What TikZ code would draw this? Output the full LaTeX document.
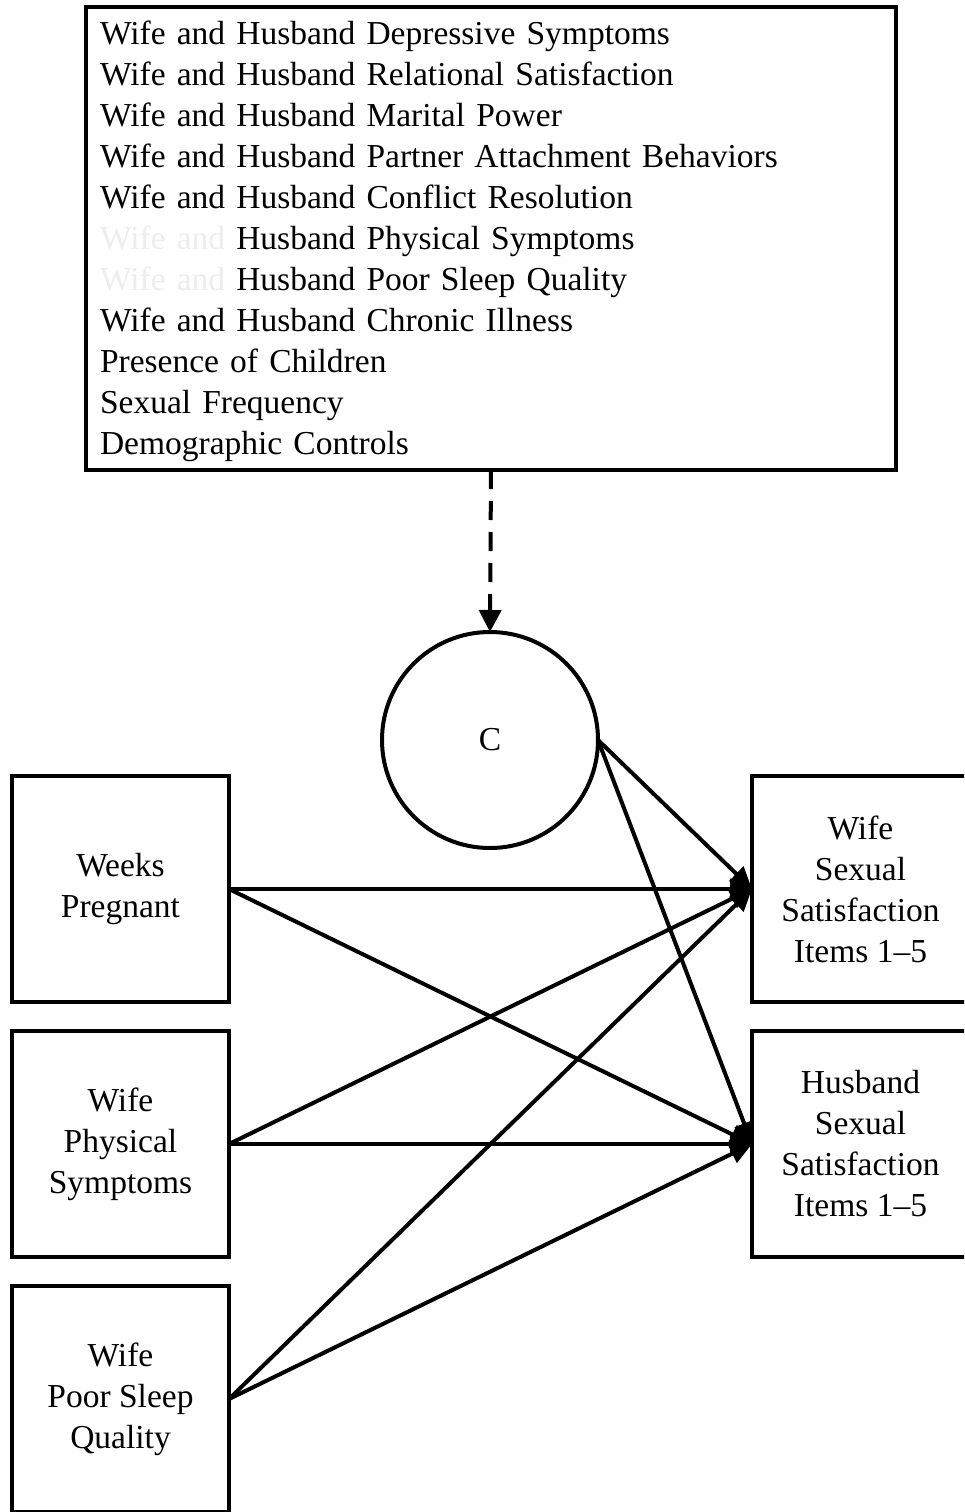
\documentclass[tikz,border=0pt]{standalone}
\usepackage{fontspec}
\setmainfont{Liberation Serif}
\usetikzlibrary{arrows.meta}
\begin{document}
\begin{tikzpicture}[x=1pt,y=-1pt,outer sep=0pt,
  txt/.style={font=\fontsize{33.5}{41}\selectfont},
  box/.style={draw,line width=4pt,txt,align=center,minimum width=217,minimum height=226,inner sep=0pt},
  arr/.style={line width=4pt,-{Triangle[length=22pt,width=20pt]}},
  darr/.style={line width=4pt,dash pattern=on 19pt off 12pt,-{Triangle[length=22pt,width=22pt]}}
]
\useasboundingbox (0,0) rectangle (964,1512);
\clip (0,0) rectangle (964,1512);
\definecolor{ghost}{gray}{0.93}
\node[draw,line width=4pt,anchor=north west,minimum width=810,minimum height=463,inner sep=0pt] (vars) at (86,7) {};
\node[text width=782,align=left,inner sep=0pt,txt,anchor=west] (varstext) at ([xshift=14pt,yshift=-3pt]vars.west) {%
Wife and Husband Depressive Symptoms\\
Wife and Husband Relational Satisfaction\\
Wife and Husband Marital Power\\
Wife and Husband Partner Attachment Behaviors\\
Wife and Husband Conflict Resolution\\
\textcolor{ghost}{Wife and} Husband Physical Symptoms\\
\textcolor{ghost}{Wife and} Husband Poor Sleep Quality\\
Wife and Husband Chronic Illness\\
Presence of Children\\
Sexual Frequency\\
Demographic Controls};
\node[draw,circle,line width=4pt,minimum size=216,inner sep=0pt,txt] (C) at (490,740) {C};
\node[box] (wp) at (120.5,889) {Weeks\\Pregnant};
\node[box] (wps) at (120.5,1144) {Wife\\Physical\\Symptoms};
\node[box] (wsl) at (120.5,1399) {Wife\\Poor Sleep\\Quality};
\node[box] (ws) at (860.5,889) {Wife\\Sexual\\Satisfaction\\Items 1--5};
\node[box] (hs) at (860.5,1144) {Husband\\Sexual\\Satisfaction\\Items 1--5};
\draw[darr] (vars.south) -- (C.north);
\draw[arr] (C.east) -- (ws.west);
\draw[arr] (C.east) -- (hs.west);
\draw[arr] (wp.east) -- (ws.west);
\draw[arr] (wp.east) -- (hs.west);
\draw[arr] (wps.east) -- (ws.west);
\draw[arr] (wps.east) -- (hs.west);
\draw[arr] (wsl.east) -- (ws.west);
\draw[arr] (wsl.east) -- (hs.west);
\end{tikzpicture}
\end{document}
